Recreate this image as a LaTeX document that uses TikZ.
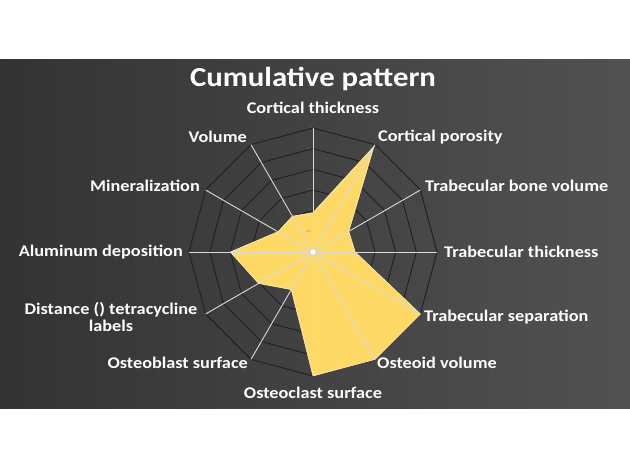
\documentclass[tikz,border=0pt]{standalone}
\usepackage{fontspec}
\setmainfont[FakeStretch=1.12]{Carlito}
\begin{document}
\begin{tikzpicture}[x=1pt,y=-1pt,
  lab/.style={text=white,font=\bfseries\fontsize{16.3}{17}\selectfont,inner sep=1pt},
  ring/.style={draw=black!88,line width=0.9pt},
  spoke/.style={draw=white!85!black,line width=0.9pt}]
\useasboundingbox (0,0) rectangle (630,470);
\fill[white] (0,0) rectangle (630,470);
\shade[left color=black!80,right color=black!68] (0,60) rectangle (630,409);
\coordinate (c) at (313,252);
\def\R{124}
% rings
\foreach \k in {1,...,6}{
  \draw[ring] ({313+\R*\k/6*sin(0)},{252-\R*\k/6*cos(0)})
    \foreach \a in {30,60,...,330}{ -- ({313+\R*\k/6*sin(\a)},{252-\R*\k/6*cos(\a)}) } -- cycle;
}
% data polygon
\def\val#1#2{({313+\R*#2/3*sin(#1)},{252-\R*#2/3*cos(#1)})}
\fill[fill={rgb,255:red,255;green,217;blue,102},draw={rgb,255:red,255;green,240;blue,200},line width=0.6pt]
  \val{0}{0.95} -- \val{30}{2.95} -- \val{60}{1.0} -- \val{90}{1.02} -- \val{120}{3} -- \val{150}{3}
  -- \val{180}{3} -- \val{210}{1.05} -- \val{240}{1.52} -- \val{270}{2.0} -- \val{300}{0.98} -- \val{330}{1.0} -- cycle;
% spokes
\foreach \a in {0,30,...,330}{
  \coordinate (s\a) at ({313+\R*sin(\a)},{252-\R*cos(\a)});
  \draw[spoke] (c) -- (s\a);
}
\fill[white] (c) circle (2.5);
% tick labels
\foreach \k/\t in {1/0.5,2/1,3/1.5,4/2,5/2.5,6/3}{
  \node[text=black!55,font=\fontsize{3}{3}\selectfont,anchor=east,inner sep=1pt] at (312,{252-\R*\k/6}) {\t};
}
\node[text=white,font=\bfseries\fontsize{27.5}{29}\selectfont] (title) at (313,79) {Cumulative pattern};
\node[lab] (l0) at (313,108) {Cortical thickness};
\node[lab,anchor=west] (l1) at (377,137) {Cortical porosity};
\node[lab,anchor=west] (l2) at (424,186) {Trabecular bone volume};
\node[lab,anchor=west] (l3) at (443,252) {Trabecular thickness};
\node[lab,anchor=west] (l4) at (423,317) {Trabecular separation};
\node[lab,anchor=west] (l5) at (376,363) {Osteoid volume};
\node[lab] (l6) at (313,393) {Osteoclast surface};
\node[lab,anchor=east] (l7) at (249,363) {Osteoblast surface};
\node[lab,align=center] (l8) at (111,317) {Distance () tetracycline\\labels};
\node[lab,anchor=east] (l9) at (184,252) {Aluminum deposition};
\node[lab,anchor=east] (l10) at (201,186) {Mineralization};
\node[lab,anchor=east] (l11) at (248,137) {Volume};
\end{tikzpicture}
\end{document}
